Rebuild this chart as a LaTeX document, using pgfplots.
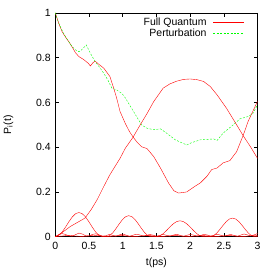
\documentclass[border=0pt]{standalone}
\usepackage{fontspec}
\setmainfont{Liberation Sans}
\usepackage{pgfplots}
\pgfplotsset{compat=1.18}
\definecolor{gpgreen}{rgb}{0,1,0}
\definecolor{gpred}{rgb}{1,0,0}
\begin{document}
\fontsize{10.5}{12}\selectfont
\begin{tikzpicture}
\begin{axis}[
  width=202.5pt, height=224pt, scale only axis,
  xmin=0, xmax=3, ymin=0, ymax=1,
  xtick={0,0.5,1,1.5,2,2.5,3},
  ytick={0,0.2,0.4,0.6,0.8,1},
  tick align=inside, major tick length=4pt,
  axis line style={line width=0.8pt},
  every tick/.style={black, line width=0.6pt},
  /pgf/number format/assume math mode=true,
  tick label style={font=\fontsize{10.5}{12}\selectfont},
  xticklabel style={yshift=-1.5pt},
  yticklabel style={xshift=-1pt},
  xlabel={t(ps)}, ylabel={P\textsubscript{i}(t)},
  xlabel style={at={(axis description cs:0.5,-0.116)}, anchor=center},
  ylabel style={at={(axis description cs:-0.232,0.5)}, anchor=center},
  clip=false,
]
% legend lines (drawn manually, before any text)
\draw[gpred, line width=0.6pt] (axis description cs:0.780,0.960) -- (axis description cs:0.933,0.960);
\draw[gpgreen, line width=0.6pt, dash pattern=on 2pt off 1.5pt] (axis description cs:0.780,0.911) -- (axis description cs:0.933,0.911);
% Full Quantum, state 1
\addplot[gpred, line width=0.4pt] coordinates {
(0,1.0) (0.05,0.955) (0.10,0.917) (0.15,0.893) (0.20,0.872) (0.25,0.848) (0.30,0.822) (0.35,0.805)
(0.42,0.792) (0.49,0.775) (0.52,0.763) (0.56,0.778) (0.59,0.785) (0.64,0.772) (0.72,0.753)
(0.81,0.716) (0.86,0.67) (0.91,0.62) (0.96,0.56) (1.04,0.505) (1.10,0.47) (1.16,0.443) (1.22,0.42)
(1.28,0.402) (1.36,0.394) (1.46,0.358) (1.56,0.307) (1.68,0.24) (1.76,0.205) (1.83,0.195)
(1.95,0.20) (2.07,0.225) (2.15,0.24) (2.25,0.27) (2.32,0.30) (2.40,0.307) (2.49,0.33)
(2.59,0.34) (2.69,0.38) (2.79,0.455) (2.86,0.515) (2.93,0.56) (3.0,0.605)
};
% Perturbation
\addplot[gpgreen, line width=0.4pt, dash pattern=on 2pt off 1.5pt] coordinates {
(0,1.0) (0.05,0.955) (0.12,0.91) (0.18,0.88) (0.25,0.85) (0.30,0.835) (0.35,0.827) (0.39,0.835)
(0.46,0.857) (0.52,0.82) (0.59,0.783) (0.65,0.76) (0.72,0.73) (0.78,0.70) (0.84,0.664) (0.91,0.656)
(0.99,0.64) (1.04,0.62) (1.12,0.58) (1.19,0.545) (1.28,0.50) (1.36,0.485) (1.46,0.478)
(1.56,0.482) (1.65,0.463) (1.78,0.433) (1.95,0.41) (2.02,0.42) (2.15,0.433) (2.35,0.437)
(2.40,0.43) (2.49,0.463) (2.64,0.50) (2.74,0.527) (2.86,0.537) (2.93,0.55) (3.0,0.59)
};
% Full Quantum, state 2
\addplot[gpred, line width=0.4pt] coordinates {
(0,0) (0.10,0.018) (0.22,0.045) (0.33,0.064) (0.44,0.083) (0.53,0.12) (0.62,0.165) (0.72,0.225)
(0.81,0.277) (0.96,0.35) (1.04,0.396) (1.15,0.443) (1.26,0.50) (1.36,0.55) (1.46,0.604)
(1.60,0.664) (1.70,0.683) (1.80,0.695) (1.90,0.703) (2.0,0.705) (2.1,0.702) (2.2,0.694)
(2.3,0.671) (2.4,0.634) (2.54,0.574) (2.67,0.51) (2.79,0.45) (2.90,0.40) (3.0,0.35)
};
% Full Quantum, state 3 (bumps)
\addplot[gpred, line width=0.4pt] coordinates {
(0,0) (0.05,0.0053) (0.10,0.0203) (0.15,0.042) (0.20,0.066) (0.25,0.0876) (0.30,0.1026) (0.35,0.108)
(0.40,0.1026) (0.45,0.0876) (0.50,0.066) (0.55,0.042) (0.60,0.0203) (0.65,0.0053) (0.70,0)
(0.76,0) (0.807,0.0047) (0.854,0.0177) (0.901,0.0366) (0.949,0.0574) (0.996,0.0762) (1.043,0.0893)
(1.09,0.094) (1.137,0.0893) (1.184,0.0762) (1.231,0.0574) (1.279,0.0366) (1.326,0.0177) (1.373,0.0047) (1.42,0)
(1.50,0) (1.55,0.0035) (1.60,0.0133) (1.65,0.0276) (1.70,0.0434) (1.75,0.0576) (1.80,0.0675)
(1.85,0.071) (1.90,0.0675) (1.95,0.0576) (2.00,0.0434) (2.05,0.0276) (2.10,0.0133) (2.15,0.0035) (2.20,0)
(2.30,0) (2.347,0.0041) (2.394,0.0156) (2.441,0.0323) (2.489,0.0507) (2.536,0.0673) (2.583,0.0789)
(2.63,0.083) (2.677,0.0789) (2.724,0.0673) (2.771,0.0507) (2.819,0.0323) (2.866,0.0156) (2.913,0.0041) (2.96,0) (3.0,0.002)
};
% small populations
\addplot[gpred, line width=0.4pt] coordinates {
(0,0) (0.05,0.008) (0.10,0.014) (0.15,0.010) (0.20,0.004) (0.25,0.002) (0.30,0.009) (0.35,0.016)
(0.40,0.012) (0.45,0.004) (0.50,0.003) (0.55,0.010) (0.60,0.013) (0.65,0.008) (0.70,0.002)
(0.75,0.004) (0.80,0.010) (0.85,0.006) (0.90,0.002) (0.95,0.008) (1.00,0.012) (1.05,0.007)
(1.10,0.002) (1.15,0.006) (1.20,0.011) (1.25,0.008) (1.30,0.003) (1.35,0.005) (1.40,0.010)
(1.45,0.007) (1.50,0.002) (1.55,0.006) (1.60,0.010) (1.65,0.006) (1.70,0.002) (1.75,0.007)
(1.80,0.011) (1.85,0.006) (1.90,0.002) (1.95,0.006) (2.00,0.010) (2.05,0.007) (2.10,0.002)
(2.15,0.005) (2.20,0.010) (2.25,0.008) (2.30,0.003) (2.35,0.006) (2.40,0.011) (2.45,0.007)
(2.50,0.002) (2.55,0.006) (2.60,0.010) (2.65,0.006) (2.70,0.002) (2.75,0.007) (2.80,0.012)
(2.85,0.008) (2.90,0.003) (2.95,0.008) (3.0,0.014)
};
\addplot[gpred, line width=0.4pt] coordinates {
(0,0) (0.1,0.003) (0.2,0.006) (0.3,0.003) (0.4,0.001) (0.5,0.004) (0.6,0.006) (0.7,0.003)
(0.8,0.001) (0.9,0.004) (1.0,0.005) (1.1,0.002) (1.2,0.001) (1.3,0.004) (1.4,0.005) (1.5,0.002)
(1.6,0.001) (1.7,0.004) (1.8,0.005) (1.9,0.002) (2.0,0.001) (2.1,0.004) (2.2,0.005) (2.3,0.002)
(2.4,0.001) (2.5,0.004) (2.6,0.005) (2.7,0.002) (2.8,0.001) (2.9,0.004) (3.0,0.006)
};
% legend text
\node[anchor=base east, inner sep=0pt] at (axis description cs:0.749,0.943) {Full Quantum};
\node[anchor=base east, inner sep=0pt] at (axis description cs:0.749,0.894) {Perturbation};
\end{axis}
\path ([shift={(-55pt,-32pt)}]current axis.south west) rectangle ([shift={(17.5pt,13pt)}]current axis.north east);
\end{tikzpicture}
\end{document}
